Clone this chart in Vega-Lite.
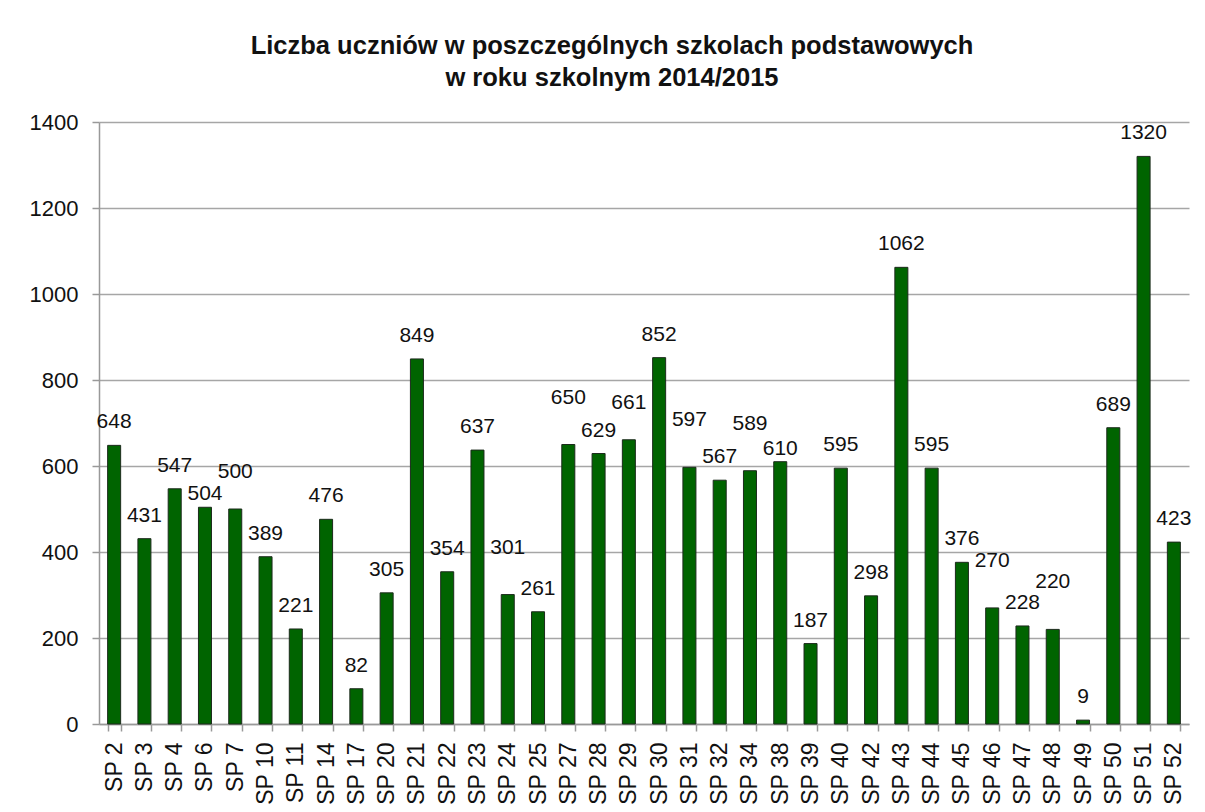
{
  "$schema": "https://vega.github.io/schema/vega-lite/v6.json",
  "width": 1090,
  "height": 602,
  "autosize": {"type": "none"},
  "padding": {"left": 99, "top": 122, "right": 16, "bottom": 88},
  "background": "white",
  "title": {
    "text": ["Liczba uczniów w poszczególnych szkolach podstawowych", "w roku szkolnym 2014/2015"],
    "font": "Liberation Sans",
    "fontSize": 25.5,
    "fontWeight": "bold",
    "color": "#111111",
    "anchor": "middle",
    "frame": "group",
    "dx": -32,
    "lineHeight": 32,
    "offset": 20
  },
  "config": {
    "view": {"stroke": null},
    "font": "Liberation Sans",
    "axis": {
      "labelFont": "Liberation Sans",
      "labelFontSize": 22,
      "labelColor": "#111111",
      "domainColor": "#999999",
      "domainWidth": 1.5,
      "tickColor": "#999999",
      "tickWidth": 1.5,
      "tickSize": 7,
      "title": null
    }
  },
  "data": {
    "values": [
      {"szkola": "SP 2", "uczniowie": 648},
      {"szkola": "SP 3", "uczniowie": 431},
      {"szkola": "SP 4", "uczniowie": 547},
      {"szkola": "SP 6", "uczniowie": 504},
      {"szkola": "SP 7", "uczniowie": 500},
      {"szkola": "SP 10", "uczniowie": 389},
      {"szkola": "SP 11", "uczniowie": 221},
      {"szkola": "SP 14", "uczniowie": 476},
      {"szkola": "SP 17", "uczniowie": 82},
      {"szkola": "SP 20", "uczniowie": 305},
      {"szkola": "SP 21", "uczniowie": 849},
      {"szkola": "SP 22", "uczniowie": 354},
      {"szkola": "SP 23", "uczniowie": 637},
      {"szkola": "SP 24", "uczniowie": 301},
      {"szkola": "SP 25", "uczniowie": 261},
      {"szkola": "SP 27", "uczniowie": 650},
      {"szkola": "SP 28", "uczniowie": 629},
      {"szkola": "SP 29", "uczniowie": 661},
      {"szkola": "SP 30", "uczniowie": 852},
      {"szkola": "SP 31", "uczniowie": 597},
      {"szkola": "SP 32", "uczniowie": 567},
      {"szkola": "SP 34", "uczniowie": 589},
      {"szkola": "SP 38", "uczniowie": 610},
      {"szkola": "SP 39", "uczniowie": 187},
      {"szkola": "SP 40", "uczniowie": 595},
      {"szkola": "SP 42", "uczniowie": 298},
      {"szkola": "SP 43", "uczniowie": 1062},
      {"szkola": "SP 44", "uczniowie": 595},
      {"szkola": "SP 45", "uczniowie": 376},
      {"szkola": "SP 46", "uczniowie": 270},
      {"szkola": "SP 47", "uczniowie": 228},
      {"szkola": "SP 48", "uczniowie": 220},
      {"szkola": "SP 49", "uczniowie": 9},
      {"szkola": "SP 50", "uczniowie": 689},
      {"szkola": "SP 51", "uczniowie": 1320},
      {"szkola": "SP 52", "uczniowie": 423}
    ]
  },
  "encoding": {
    "x": {
      "field": "szkola",
      "type": "nominal",
      "sort": null,
      "scale": {"paddingInner": 0.57, "paddingOuter": 0.285},
      "axis": {
        "labelAngle": -90,
        "labelPadding": 11,
        "labelFontSize": 23,
        "tickBand": "extent",
        "grid": false
      }
    },
    "y": {
      "field": "uczniowie",
      "type": "quantitative",
      "scale": {"domain": [0, 1400], "nice": false},
      "axis": {
        "values": [0, 200, 400, 600, 800, 1000, 1200, 1400],
        "format": "d",
        "labelPadding": 14,
        "grid": true,
        "gridColor": "#a6a6a6",
        "gridWidth": 1.5
      }
    }
  },
  "layer": [
    {
      "mark": {"type": "bar", "fill": "#006400", "stroke": "#1c2a1c", "strokeWidth": 1}
    },
    {
      "transform": [{"filter": "indexof(['SP 24','SP 27','SP 31','SP 34','SP 46','SP 48','SP 7','SP 29','SP 6','SP 38'], datum.szkola) < 0"}],
      "mark": {"type": "text", "baseline": "middle", "align": "center", "dy": -23, "fontSize": 21, "font": "Liberation Sans", "color": "#111111"},
      "encoding": {"text": {"field": "uczniowie", "type": "quantitative"}}
    },
    {
      "transform": [{"filter": "indexof(['SP 24','SP 27','SP 31','SP 34','SP 46','SP 48'], datum.szkola) >= 0"}],
      "mark": {"type": "text", "baseline": "middle", "align": "center", "dy": -47, "fontSize": 21, "font": "Liberation Sans", "color": "#111111"},
      "encoding": {"text": {"field": "uczniowie", "type": "quantitative"}}
    },
    {
      "transform": [{"filter": "indexof(['SP 7','SP 29'], datum.szkola) >= 0"}],
      "mark": {"type": "text", "baseline": "middle", "align": "center", "dy": -37, "fontSize": 21, "font": "Liberation Sans", "color": "#111111"},
      "encoding": {"text": {"field": "uczniowie", "type": "quantitative"}}
    },
    {
      "transform": [{"filter": "indexof(['SP 6','SP 38'], datum.szkola) >= 0"}],
      "mark": {"type": "text", "baseline": "middle", "align": "center", "dy": -13, "fontSize": 21, "font": "Liberation Sans", "color": "#111111"},
      "encoding": {"text": {"field": "uczniowie", "type": "quantitative"}}
    }
  ]
}
